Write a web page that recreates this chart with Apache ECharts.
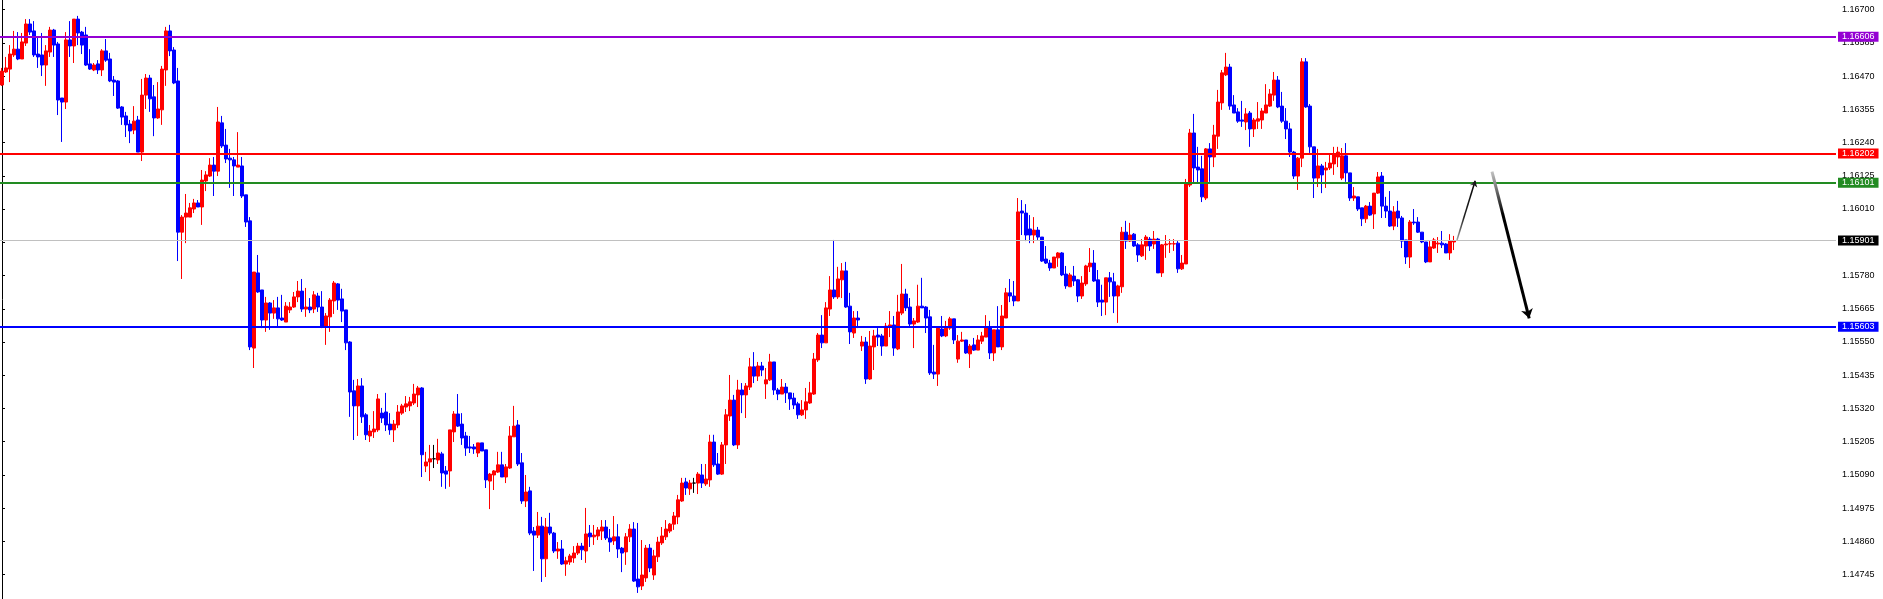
<!DOCTYPE html>
<html>
<head>
<meta charset="utf-8">
<script src="https://cdn.jsdelivr.net/npm/echarts@6/dist/echarts.min.js"></script>
<style>
html,body{margin:0;padding:0;background:#fff;}
#chart{width:1883px;height:599px;}
</style>
</head>
<body>
<div id="chart"></div>
<script>
// ---- DATA ----
// Each candle: [open, close, low, high]
const ohlc = [
[1.16439,1.16487,1.16436,1.16498],[1.16484,1.16498,1.16481,1.16536],[1.16494,1.16546,1.16449,1.16577],[1.16543,1.16563,1.16536,1.16626],
[1.16563,1.16529,1.16525,1.16622],[1.16529,1.16588,1.16529,1.16619],[1.16584,1.16650,1.16574,1.16667],[1.16650,1.16622,1.16612,1.16667],
[1.16626,1.16543,1.16536,1.16660],[1.16546,1.16536,1.16498,1.16605],[1.16543,1.16508,1.16470,1.16619],[1.16508,1.16557,1.16436,1.16577],
[1.16553,1.16629,1.16536,1.16640],[1.16629,1.16577,1.16536,1.16633],[1.16581,1.16387,1.16335,1.16588],[1.16394,1.16380,1.16242,1.16394],
[1.16380,1.16595,1.16356,1.16622],[1.16595,1.16574,1.16536,1.16660],[1.16574,1.16667,1.16515,1.16667],[1.16667,1.16619,1.16577,1.16678],
[1.16622,1.16577,1.16546,1.16626],[1.16612,1.16508,1.16505,1.16640],[1.16512,1.16494,1.16491,1.16563],[1.16491,1.16508,1.16487,1.16515],
[1.16512,1.16491,1.16477,1.16525],[1.16491,1.16557,1.16470,1.16563],[1.16557,1.16525,1.16519,1.16598],[1.16529,1.16453,1.16449,1.16550],
[1.16456,1.16449,1.16401,1.16470],[1.16453,1.16359,1.16356,1.16456],[1.16363,1.16328,1.16301,1.16366],[1.16332,1.16301,1.16259,1.16346],
[1.16304,1.16280,1.16238,1.16318],[1.16283,1.16314,1.16269,1.16366],[1.16318,1.16207,1.16207,1.16332],[1.16207,1.16404,1.16176,1.16460],
[1.16404,1.16463,1.16356,1.16477],[1.16463,1.16391,1.16346,1.16474],[1.16398,1.16325,1.16262,1.16439],[1.16325,1.16356,1.16322,1.16449],
[1.16353,1.16494,1.16301,1.16505],[1.16491,1.16626,1.16436,1.16640],[1.16626,1.16557,1.16539,1.16647],[1.16560,1.16446,1.16442,1.16570],
[1.16453,1.15930,1.15830,1.16498],[1.15930,1.15982,1.15768,1.15989],[1.15982,1.15996,1.15892,1.16062],[1.15982,1.16014,1.15982,1.16031],
[1.16010,1.16031,1.15996,1.16045],[1.16031,1.16017,1.16017,1.16041],[1.16017,1.16110,1.15955,1.16145],[1.16107,1.16128,1.16072,1.16141],
[1.16124,1.16162,1.16121,1.16186],[1.16162,1.16141,1.16055,1.16190],[1.16141,1.16311,1.16124,1.16363],[1.16308,1.16228,1.16221,1.16332],
[1.16231,1.16183,1.16169,1.16287],[1.16186,1.16180,1.16083,1.16218],[1.16180,1.16159,1.16055,1.16190],[1.16155,1.16162,1.16155,1.16276],
[1.16159,1.16055,1.16048,1.16190],[1.16059,1.15965,1.15948,1.16059],[1.15969,1.15533,1.15522,1.15982],[1.15529,1.15792,1.15460,1.15792],
[1.15789,1.15723,1.15720,1.15851],[1.15730,1.15626,1.15598,1.15730],[1.15626,1.15685,1.15585,1.15706],[1.15685,1.15650,1.15592,1.15688],
[1.15650,1.15668,1.15630,1.15695],[1.15668,1.15630,1.15605,1.15706],[1.15633,1.15626,1.15623,1.15713],[1.15619,1.15674,1.15619,1.15688],
[1.15661,1.15671,1.15650,1.15688],[1.15671,1.15706,1.15668,1.15723],[1.15706,1.15726,1.15688,1.15761],[1.15726,1.15664,1.15654,1.15768],
[1.15664,1.15671,1.15637,1.15737],[1.15671,1.15661,1.15650,1.15702],[1.15664,1.15713,1.15650,1.15726],[1.15709,1.15671,1.15654,1.15720],
[1.15671,1.15602,1.15598,1.15726],[1.15605,1.15640,1.15540,1.15650],[1.15637,1.15695,1.15585,1.15702],[1.15692,1.15754,1.15647,1.15761],
[1.15751,1.15695,1.15661,1.15754],[1.15699,1.15657,1.15619,1.15734],[1.15661,1.15547,1.15522,1.15661],[1.15550,1.15377,1.15291,1.15553],
[1.15381,1.15329,1.15211,1.15419],[1.15329,1.15398,1.15225,1.15422],[1.15398,1.15291,1.15270,1.15425],[1.15298,1.15229,1.15211,1.15304],
[1.15225,1.15242,1.15204,1.15263],[1.15239,1.15249,1.15218,1.15311],[1.15246,1.15353,1.15239,1.15370],[1.15304,1.15287,1.15270,1.15322],
[1.15308,1.15263,1.15242,1.15374],[1.15266,1.15246,1.15229,1.15304],[1.15246,1.15266,1.15204,1.15280],[1.15263,1.15308,1.15252,1.15332],
[1.15304,1.15329,1.15298,1.15336],[1.15325,1.15336,1.15308,1.15363],[1.15329,1.15343,1.15311,1.15360],[1.15339,1.15370,1.15332,1.15405],
[1.15367,1.15391,1.15325,1.15398],[1.15391,1.15160,1.15083,1.15394],[1.15121,1.15135,1.15100,1.15170],[1.15135,1.15146,1.15069,1.15194],
[1.15146,1.15146,1.15114,1.15194],[1.15142,1.15166,1.15128,1.15215],[1.15163,1.15097,1.15049,1.15170],[1.15104,1.15093,1.15042,1.15121],
[1.15104,1.15246,1.15049,1.15246],[1.15239,1.15301,1.15204,1.15311],[1.15301,1.15259,1.15256,1.15370],[1.15266,1.15218,1.15194,1.15304],
[1.15225,1.15183,1.15156,1.15239],[1.15187,1.15183,1.15166,1.15225],[1.15187,1.15180,1.15163,1.15197],[1.15166,1.15201,1.15152,1.15201],
[1.15201,1.15173,1.15173,1.15201],[1.15177,1.15073,1.15045,1.15177],[1.15069,1.15093,1.14972,1.15097],[1.15090,1.15104,1.15038,1.15107],
[1.15100,1.15125,1.15097,1.15170],[1.15125,1.15083,1.15083,1.15170],[1.15083,1.15118,1.15062,1.15128],[1.15114,1.15225,1.15111,1.15259],
[1.15222,1.15259,1.15222,1.15329],[1.15263,1.15128,1.15121,1.15280],[1.15132,1.15000,1.14990,1.15166],[1.15000,1.15031,1.14979,1.15090],
[1.15035,1.14889,1.14882,1.15049],[1.14896,1.14882,1.14758,1.14910],[1.14882,1.14913,1.14872,1.14962],[1.14913,1.14800,1.14720,1.14945],
[1.14800,1.14910,1.14737,1.14941],[1.14910,1.14889,1.14882,1.14959],[1.14889,1.14827,1.14820,1.14893],[1.14827,1.14834,1.14800,1.14858],
[1.14834,1.14782,1.14779,1.14865],[1.14782,1.14793,1.14741,1.14807],[1.14789,1.14810,1.14779,1.14817],[1.14803,1.14820,1.14786,1.14844],
[1.14820,1.14844,1.14813,1.14855],[1.14844,1.14831,1.14796,1.14855],[1.14827,1.14886,1.14786,1.14976],[1.14889,1.14876,1.14841,1.14917],
[1.14876,1.14882,1.14848,1.14917],[1.14879,1.14900,1.14865,1.14910],[1.14896,1.14910,1.14865,1.14934],[1.14910,1.14872,1.14865,1.14934],
[1.14872,1.14858,1.14824,1.14903],[1.14862,1.14876,1.14848,1.14948],[1.14876,1.14834,1.14803,1.14920],[1.14837,1.14820,1.14754,1.14841],
[1.14824,1.14876,1.14779,1.14889],[1.14876,1.14903,1.14858,1.14920],[1.14903,1.14723,1.14720,1.14927],[1.14730,1.14703,1.14682,1.14924],
[1.14706,1.14744,1.14692,1.14865],[1.14734,1.14837,1.14720,1.14848],[1.14837,1.14768,1.14754,1.14851],[1.14744,1.14810,1.14727,1.14831],
[1.14807,1.14858,1.14789,1.14876],[1.14855,1.14879,1.14848,1.14910],[1.14876,1.14903,1.14865,1.14934],[1.14896,1.14920,1.14889,1.14924],
[1.14920,1.14948,1.14900,1.14962],[1.14945,1.15004,1.14920,1.15021],[1.15000,1.15062,1.14997,1.15080],[1.15066,1.15045,1.15021,1.15080],
[1.15042,1.15062,1.15021,1.15073],[1.15062,1.15062,1.15028,1.15080],[1.15062,1.15093,1.15024,1.15100],[1.15090,1.15062,1.15045,1.15128],
[1.15059,1.15076,1.15052,1.15128],[1.15073,1.15204,1.15049,1.15229],[1.15204,1.15125,1.15118,1.15229],[1.15128,1.15093,1.15090,1.15166],
[1.15093,1.15194,1.15090,1.15204],[1.15194,1.15298,1.15128,1.15318],[1.15294,1.15349,1.15277,1.15436],[1.15349,1.15194,1.15190,1.15367],
[1.15194,1.15384,1.15180,1.15419],[1.15384,1.15367,1.15304,1.15408],[1.15367,1.15398,1.15287,1.15408],[1.15394,1.15464,1.15384,1.15495],
[1.15464,1.15432,1.15408,1.15515],[1.15432,1.15467,1.15415,1.15481],[1.15467,1.15453,1.15432,1.15481],[1.15405,1.15419,1.15353,1.15460],
[1.15419,1.15481,1.15415,1.15509],[1.15481,1.15384,1.15367,1.15481],[1.15384,1.15370,1.15349,1.15391],[1.15370,1.15394,1.15370,1.15422],
[1.15394,1.15374,1.15339,1.15408],[1.15374,1.15353,1.15315,1.15374],[1.15356,1.15332,1.15318,1.15374],[1.15336,1.15298,1.15284,1.15343],
[1.15298,1.15315,1.15294,1.15349],[1.15315,1.15343,1.15284,1.15391],[1.15339,1.15374,1.15336,1.15412],[1.15370,1.15491,1.15367,1.15512],
[1.15488,1.15574,1.15481,1.15581],[1.15574,1.15547,1.15529,1.15643],[1.15547,1.15668,1.15547,1.15688],[1.15664,1.15730,1.15640,1.15778],
[1.15730,1.15706,1.15699,1.15903],[1.15706,1.15768,1.15699,1.15810],[1.15765,1.15796,1.15702,1.15823],[1.15796,1.15671,1.15668,1.15827],
[1.15674,1.15585,1.15543,1.15720],[1.15581,1.15633,1.15564,1.15657],[1.15633,1.15626,1.15598,1.15657],[1.15536,1.15550,1.15519,1.15571],
[1.15550,1.15422,1.15405,1.15567],[1.15422,1.15536,1.15419,1.15588],[1.15533,1.15571,1.15453,1.15592],[1.15574,1.15567,1.15536,1.15598],
[1.15571,1.15536,1.15502,1.15578],[1.15536,1.15605,1.15536,1.15616],[1.15602,1.15609,1.15567,1.15657],[1.15609,1.15529,1.15502,1.15640],
[1.15526,1.15654,1.15522,1.15713],[1.15650,1.15716,1.15643,1.15820],[1.15716,1.15668,1.15657,1.15734],[1.15671,1.15612,1.15602,1.15702],
[1.15612,1.15623,1.15529,1.15633],[1.15619,1.15674,1.15616,1.15748],[1.15674,1.15668,1.15668,1.15772],[1.15671,1.15633,1.15581,1.15674],
[1.15637,1.15443,1.15436,1.15661],[1.15446,1.15439,1.15422,1.15540],[1.15439,1.15598,1.15398,1.15598],[1.15595,1.15571,1.15567,1.15640],
[1.15571,1.15598,1.15567,1.15623],[1.15598,1.15630,1.15592,1.15637],[1.15630,1.15557,1.15543,1.15630],[1.15491,1.15553,1.15478,1.15574],
[1.15553,1.15557,1.15550,1.15585],[1.15557,1.15512,1.15509,1.15557],[1.15509,1.15536,1.15460,1.15543],[1.15540,1.15522,1.15519,1.15564],
[1.15522,1.15557,1.15522,1.15574],[1.15553,1.15571,1.15543,1.15585],[1.15567,1.15602,1.15567,1.15643],[1.15602,1.15512,1.15491,1.15623],
[1.15512,1.15592,1.15484,1.15592],[1.15592,1.15533,1.15533,1.15674],[1.15533,1.15640,1.15522,1.15678],[1.15633,1.15720,1.15633,1.15737],
[1.15720,1.15709,1.15688,1.15768],[1.15709,1.15692,1.15674,1.15761],[1.15692,1.16000,1.15692,1.16048],[1.16003,1.15996,1.15920,1.16041],
[1.15996,1.15920,1.15899,1.16027],[1.15941,1.15920,1.15892,1.15989],[1.15920,1.15937,1.15892,1.15982],[1.15937,1.15913,1.15903,1.15948],
[1.15913,1.15830,1.15827,1.15913],[1.15837,1.15823,1.15820,1.15882],[1.15823,1.15806,1.15796,1.15834],[1.15806,1.15844,1.15806,1.15844],
[1.15841,1.15858,1.15810,1.15861],[1.15858,1.15782,1.15778,1.15861],[1.15785,1.15744,1.15734,1.15813],[1.15741,1.15782,1.15741,1.15789],
[1.15778,1.15761,1.15744,1.15813],[1.15765,1.15709,1.15688,1.15768],[1.15709,1.15754,1.15699,1.15778],[1.15751,1.15813,1.15744,1.15817],
[1.15810,1.15823,1.15792,1.15875],[1.15823,1.15761,1.15758,1.15868],[1.15765,1.15688,1.15671,1.15799],[1.15695,1.15688,1.15640,1.15748],
[1.15688,1.15772,1.15643,1.15772],[1.15772,1.15758,1.15706,1.15792],[1.15758,1.15709,1.15650,1.15789],[1.15709,1.15744,1.15616,1.15748],
[1.15741,1.15930,1.15720,1.15948],[1.15930,1.15899,1.15872,1.15969],[1.15899,1.15920,1.15896,1.15962],[1.15923,1.15882,1.15879,1.15927],
[1.15886,1.15851,1.15827,1.15892],[1.15848,1.15886,1.15844,1.15906],[1.15882,1.15913,1.15834,1.15920],[1.15906,1.15882,1.15865,1.15913],
[1.15889,1.15906,1.15872,1.15934],[1.15906,1.15789,1.15789,1.15910],[1.15789,1.15886,1.15775,1.15889],[1.15886,1.15889,1.15841,1.15920],
[1.15889,1.15890,1.15858,1.15906],[1.15889,1.15890,1.15865,1.15906],[1.15892,1.15803,1.15789,1.15899],[1.15803,1.15823,1.15799,1.15851],
[1.15820,1.16097,1.15820,1.16114],[1.16093,1.16273,1.16086,1.16287],[1.16273,1.16152,1.16097,1.16339],[1.16155,1.16145,1.16100,1.16225],
[1.16149,1.16052,1.16034,1.16194],[1.16048,1.16218,1.16041,1.16221],[1.16218,1.16190,1.16104,1.16238],[1.16190,1.16266,1.16155,1.16301],
[1.16262,1.16380,1.16218,1.16422],[1.16377,1.16481,1.16353,1.16491],[1.16474,1.16501,1.16470,1.16550],[1.16501,1.16366,1.16353,1.16512],
[1.16370,1.16342,1.16342,1.16404],[1.16346,1.16314,1.16308,1.16359],[1.16318,1.16314,1.16294,1.16384],[1.16311,1.16339,1.16283,1.16359],
[1.16342,1.16287,1.16225,1.16349],[1.16287,1.16318,1.16259,1.16325],[1.16314,1.16322,1.16287,1.16380],[1.16318,1.16349,1.16287,1.16359],
[1.16342,1.16370,1.16342,1.16442],[1.16366,1.16408,1.16363,1.16425],[1.16404,1.16456,1.16384,1.16484],[1.16456,1.16363,1.16359,1.16470],
[1.16366,1.16314,1.16308,1.16415],[1.16314,1.16287,1.16252,1.16359],[1.16287,1.16207,1.16190,1.16308],[1.16207,1.16124,1.16114,1.16211],
[1.16124,1.16186,1.16076,1.16190],[1.16186,1.16519,1.16155,1.16532],[1.16519,1.16363,1.16360,1.16532],[1.16366,1.16225,1.16204,1.16373],
[1.16225,1.16117,1.16048,1.16225],[1.16117,1.16159,1.16086,1.16218],[1.16159,1.16128,1.16065,1.16166],[1.16145,1.16152,1.16083,1.16173],
[1.16152,1.16169,1.16145,1.16197],[1.16166,1.16201,1.16128,1.16225],[1.16190,1.16207,1.16155,1.16225],[1.16117,1.16194,1.16110,1.16221],
[1.16194,1.16135,1.16104,1.16238],[1.16135,1.16048,1.16038,1.16135],[1.16048,1.16055,1.16038,1.16086],[1.16052,1.16010,1.16003,1.16052],
[1.16014,1.15976,1.15951,1.16014],[1.15976,1.16020,1.15962,1.16024],[1.16020,1.15989,1.15986,1.16034],[1.15993,1.16065,1.15941,1.16065],
[1.16065,1.16121,1.16062,1.16138],[1.16124,1.16020,1.15979,1.16138],[1.16020,1.16003,1.15979,1.16052],[1.16003,1.15951,1.15948,1.16072],
[1.15951,1.16000,1.15937,1.16020],[1.16003,1.15979,1.15948,1.16038],[1.15979,1.15899,1.15875,1.15986],[1.15903,1.15844,1.15820,1.15903],
[1.15844,1.15965,1.15806,1.15972],[1.15965,1.15962,1.15955,1.16010],[1.15965,1.15930,1.15927,1.15982],[1.15930,1.15896,1.15892,1.15930],
[1.15896,1.15827,1.15823,1.15896],[1.15827,1.15879,1.15827,1.15899],[1.15875,1.15903,1.15872,1.15910],[1.15889,1.15892,1.15858,1.15913],
[1.15892,1.15886,1.15875,1.15934],[1.15889,1.15858,1.15858,1.15892],[1.15858,1.15899,1.15834,1.15923],[1.15896,1.15901,1.15868,1.15917]
];

// Horizontal price levels (purple, red, green, current bid, blue)
const levelPrices = [1.16606, 1.16202, 1.16101, 1.15901, 1.15603];

// Right-axis tick labels
const tickValues = [1.16700, 1.16585, 1.16470, 1.16355, 1.16240, 1.16125, 1.16010, 1.15895,
  1.15780, 1.15665, 1.15550, 1.15435, 1.15320, 1.15205, 1.15090, 1.14975, 1.14860, 1.14745];

// Hand-drawn projection arrows: [[barIndex, price], [barIndex, price]]
const arrowUp = [[363.75, 1.15903], [368.3, 1.16108]];
const arrowDown = [[372.5, 1.16139], [381.8, 1.15632]];

// Number of bar slots across the plot (includes empty future space)
const slotCount = 459;
const priceMin = 1.14661, priceMax = 1.16733;

// ---- STYLE ----
const levelStyles = [
  {color: '#9400D3', width: 2, bg: '#9400D3'},
  {color: '#FF0000', width: 2, bg: '#FF0000'},
  {color: '#228B22', width: 2, bg: '#228B22'},
  {color: '#C0C0C0', width: 1, bg: '#000000'},
  {color: '#0000FF', width: 2, bg: '#0000FF'}
];
const FONT = 'Liberation Sans, Arial, sans-serif';

const categories = Array.from({length: slotCount}, (_, i) => String(i));

const chart = echarts.init(document.getElementById('chart'), null, {renderer: 'canvas'});

const levelSeries = levelPrices.map((p, i) => ({
  type: 'line', xAxisIndex: 1, yAxisIndex: 0, z: 3,
  data: [[-0.5, p]], symbol: 'none', showSymbol: false, silent: true,
  lineStyle: {opacity: 0},
  markLine: {
    silent: true, symbol: ['none', 'none'], animation: false, precision: 5,
    data: [{
      yAxis: p,
      lineStyle: {color: levelStyles[i].color, width: levelStyles[i].width, type: 'solid'},
      label: {
        show: true, position: 'end', formatter: p.toFixed(5),
        backgroundColor: levelStyles[i].bg, color: '#fff',
        fontSize: 9, fontFamily: FONT, lineHeight: 10,
        padding: [0, 4, 0, 4], distance: 2
      }
    }]
  }
}));

chart.setOption({
  backgroundColor: '#ffffff',
  animation: false,
  grid: {left: -1, right: 47, top: 0, bottom: 0, containLabel: false},
  xAxis: [
    {type: 'category', data: categories, boundaryGap: true, show: false},
    {type: 'value', min: -0.5, max: slotCount - 0.5, show: false}
  ],
  yAxis: {
    type: 'value', position: 'right', min: priceMin, max: priceMax, scale: true,
    axisLine: {show: true, lineStyle: {color: '#000', width: 1}},
    axisTick: {show: true, length: 3, lineStyle: {color: '#000'}, customValues: tickValues},
    axisLabel: {
      show: true, customValues: tickValues, formatter: v => Number(v).toFixed(5),
      color: '#000', fontSize: 9, fontFamily: FONT, margin: 6, hideOverlap: false
    },
    splitLine: {show: false}
  },
  series: [
    {
      type: 'candlestick',
      xAxisIndex: 0, yAxisIndex: 0, z: 4,
      data: ohlc,
      barWidth: 3,
      itemStyle: {
        color: '#FF0000', color0: '#0000FF',
        borderColor: '#FF0000', borderColor0: '#0000FF',
        borderColorDoji: '#000000', borderWidth: 1
      }
    },
    ...levelSeries,
    {
      type: 'lines', coordinateSystem: 'cartesian2d', xAxisIndex: 1, yAxisIndex: 0,
      polyline: false, silent: true, z: 5,
      symbol: ['none', 'arrow'], symbolSize: 6,
      lineStyle: {
        width: 1.5, opacity: 1,
        color: new echarts.graphic.LinearGradient(0, 1, 1, 0, [
          {offset: 0, color: '#b0b0b0'}, {offset: 0.4, color: '#202020'}, {offset: 1, color: '#000'}
        ])
      },
      data: [{coords: arrowUp}]
    },
    {
      type: 'lines', coordinateSystem: 'cartesian2d', xAxisIndex: 1, yAxisIndex: 0,
      polyline: false, silent: true, z: 5,
      symbol: ['none', 'arrow'], symbolSize: 9,
      lineStyle: {
        width: 3, opacity: 1,
        color: new echarts.graphic.LinearGradient(0, 0, 1, 1, [
          {offset: 0, color: '#d0d0d0'}, {offset: 0.3, color: '#000'}, {offset: 1, color: '#000'}
        ])
      },
      data: [{coords: arrowDown}]
    }
  ]
});
</script>
</body>
</html>
